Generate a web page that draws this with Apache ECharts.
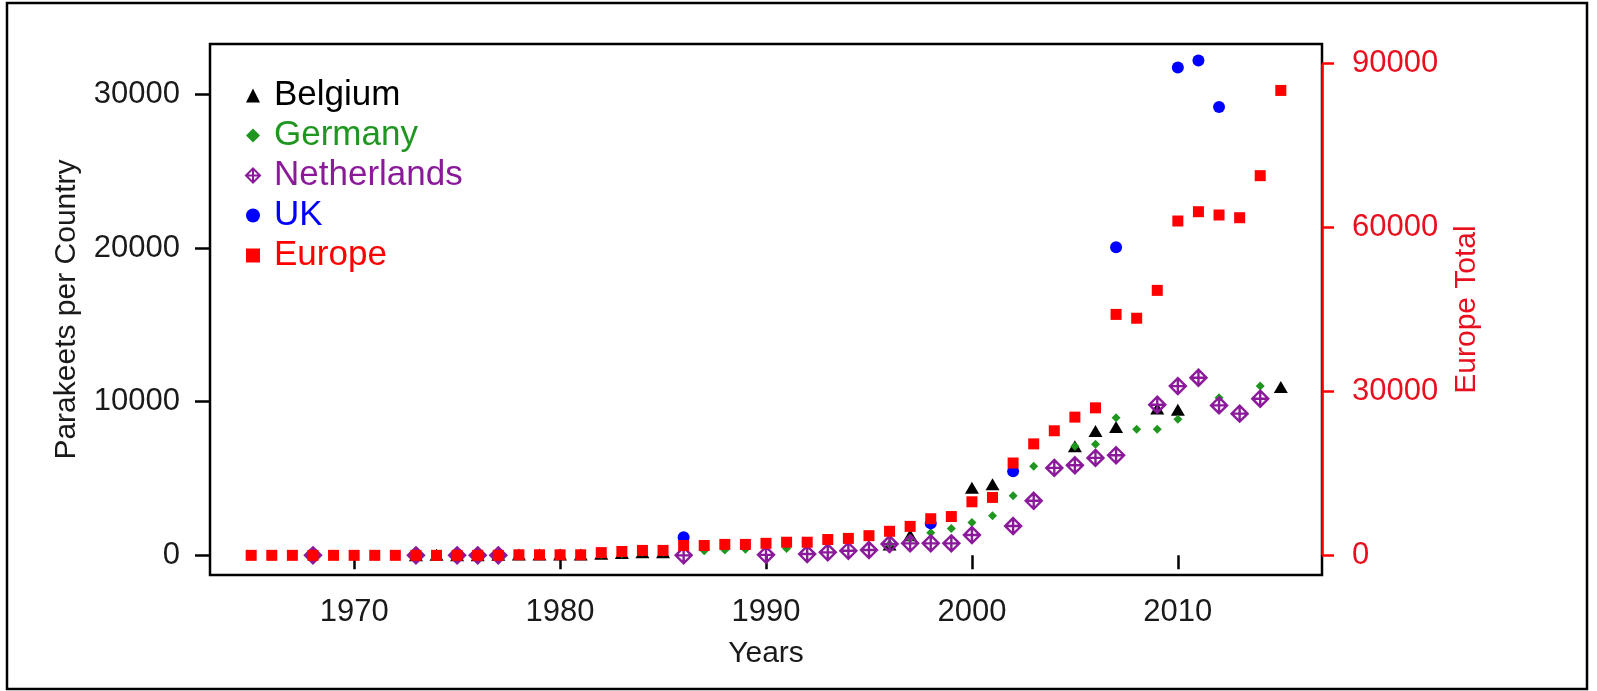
<!DOCTYPE html>
<html>
<head>
<meta charset="utf-8">
<title>Parakeets</title>
<script src="https://cdn.jsdelivr.net/npm/echarts@6/dist/echarts.min.js"></script>
<style>
  html, body { margin: 0; padding: 0; background: #fff; }
  #chart { width: 1597px; height: 691px; }
</style>
</head>
<body>
<div id="chart"></div>
<script>
const years = [1965, 1966, 1967, 1968, 1969, 1970, 1971, 1972, 1973, 1974,
  1975, 1976, 1977, 1978, 1979, 1980, 1981, 1982, 1983, 1984,
  1985, 1986, 1987, 1988, 1989, 1990, 1991, 1992, 1993, 1994,
  1995, 1996, 1997, 1998, 1999, 2000, 2001, 2002, 2003, 2004,
  2005, 2006, 2007, 2008, 2009, 2010, 2011, 2012, 2013, 2014, 2015]

const belgium = [
  null, null, null, null, null, null, null, null, // 1965-72
  0, 30, 0, 0, 30, 50, 50, 50, 50, 100, 150, 200, 200, // 1973-85
  null, null, null, null, null, null, null, null, null, null, // 1986-95
  700, 1300, null, null, 4400, 4630, null, null, null, 7100,
  8100, 8350, null, 9550, 9480, null, null, null, null, 10950 // 1996-2015
]
const germany = [
  null, null, null, null, null, null, null, null, null, null, null, null, null, null, null, // 1965-79
  0, 0, 50, 100, 200, 200, // 1980-85
  null, 300, 350, 400, null, 450, null, null, null, null, // 1986-95
  700, 1100, 1470, 1750, 2140, 2575, 3875, 5800, null, 7100,
  7230, 8960, 8200, 8200, 8850, null, 10260, null, 11015, null // 1996-2015
]
const netherlands = [
  null, null, null, 0, null, null, null, null, 0, null, 0, 0, 0, // 1965-77
  null, null, null, null, null, null, null, null, // 1978-85
  0, null, null, null, 30, null, 85, 195, 300, 345, // 1986-95
  735, 780, 780, 780, 1320, null, 1905, 3550, 5690, 5860,
  6340, 6515, null, 9805, 11015, 11560, 9760, 9220, 10195, null // 1996-2015
]
const uk = [
  null, null, null, null, null, null, null, null, null, null,
  null, null, null, null, null, null, null, null, null, null, null, // 1965-85
  1170, null, null, null, null, null, null, null, null, null, null, null, // 1986-97
  2080, null, null, null, 5475, null, null, null, null, 20045, // 1998-2007
  null, null, 31750, 32200, 29175, null, null, null // 2008-15
]
const europe = [
  0, 0, 0, 0, 0, 0, 0, 0, 0, 0, 0, 0, 0, // 1965-77
  100, 100, 100, 100, 500, 700, 900, 900, // 1978-85
  1800, 1800, 2000, 2000, 2200, 2400, 2400, 2900, 3100, 3600, // 1986-95
  4400, 5300, 6700, 7100, 9800, 10600, 16900, 20400, 22800, 25300, // 1996-2005
  27000, 44100, 43400, 48500, 61200, 62900, 62300, 61800, 69500, 85100 // 2006-15
]

const xTicks = [1970, 1980, 1990, 2000, 2010]
const leftTicks = [0, 10000, 20000, 30000]
const rightTicks = [0, 30000, 60000, 90000]

const xMin = 1963
const xMax = 2017
const font = 'Liberation Sans, Arial, sans-serif'

const toPoints = (arr) =>
  years.map((y, i) => [y, arr[i]]).filter((p) => p[1] !== null)
const plain = (v) => String(v)

// R pch 9: diamond with a plus inside
const diamondPlus = 'path://M10,0 L20,10 L10,20 L0,10 Z M10,0 L10,20 M0,10 L20,10'

const chart = echarts.init(document.getElementById('chart'))
chart.setOption({
  animation: false,
  textStyle: { fontFamily: font },
  graphic: [
    {
      type: 'rect',
      shape: { x: 7, y: 3, width: 1580, height: 686 },
      style: { fill: 'none', stroke: '#000', lineWidth: 2.5 },
      silent: true
    }
  ],
  grid: {
    left: 210,
    top: 44,
    width: 1112,
    height: 531,
    show: true,
    borderColor: '#000',
    borderWidth: 2.5
  },
  legend: {
    orient: 'vertical',
    left: 240,
    top: 73,
    itemWidth: 14,
    itemHeight: 14,
    itemGap: 5,
    textStyle: { fontSize: 35, fontFamily: font, padding: [0, 0, 0, 9] },
    data: [
      { name: 'Belgium', textStyle: { color: '#000' } },
      { name: 'Germany', textStyle: { color: '#1f961f' } },
      { name: 'Netherlands', textStyle: { color: '#8b1a9b' } },
      { name: 'UK', textStyle: { color: '#0000ff' } },
      { name: 'Europe', textStyle: { color: '#ff0000' } }
    ]
  },
  xAxis: {
    type: 'value',
    min: xMin,
    max: xMax,
    name: 'Years',
    nameLocation: 'middle',
    nameGap: 64,
    nameTextStyle: { fontSize: 30, color: '#1a1a1a' },
    splitLine: { show: false },
    axisLine: { show: false },
    axisTick: {
      customValues: xTicks,
      length: 14,
      lineStyle: { color: '#000', width: 2.5 }
    },
    axisLabel: {
      customValues: xTicks,
      formatter: plain,
      fontSize: 31,
      color: '#1a1a1a',
      margin: 22
    }
  },
  yAxis: [
    {
      type: 'value',
      min: -1280,
      max: 33280,
      name: 'Parakeets per Country',
      nameLocation: 'middle',
      nameGap: 128,
      nameTextStyle: { fontSize: 30, color: '#1a1a1a' },
      splitLine: { show: false },
      axisLine: { show: false },
      axisTick: {
        customValues: leftTicks,
        length: 15,
        lineStyle: { color: '#000', width: 2.5 }
      },
      axisLabel: {
        customValues: leftTicks,
        formatter: plain,
        fontSize: 31,
        color: '#1a1a1a',
        margin: 30
      }
    },
    {
      type: 'value',
      position: 'right',
      min: -3600,
      max: 93600,
      name: 'Europe Total',
      nameLocation: 'middle',
      nameRotate: 90,
      nameGap: 130,
      nameTextStyle: { fontSize: 30, color: '#e8101f' },
      splitLine: { show: false },
      axisLine: { show: false },
      axisTick: {
        customValues: rightTicks,
        length: 12,
        lineStyle: { color: '#ff0000', width: 2.5 }
      },
      axisLabel: {
        customValues: rightTicks,
        formatter: plain,
        fontSize: 31,
        color: '#e8101f',
        margin: 30
      }
    }
  ],
  series: [
    {
      name: 'Belgium',
      type: 'scatter',
      symbol: 'triangle',
      symbolSize: [14, 12],
      itemStyle: { color: '#000', opacity: 1 },
      data: toPoints(belgium)
    },
    {
      name: 'Germany',
      type: 'scatter',
      symbol: 'diamond',
      symbolSize: 9,
      itemStyle: { color: '#1f961f', opacity: 1 },
      data: toPoints(germany)
    },
    {
      name: 'Netherlands',
      type: 'scatter',
      symbol: diamondPlus,
      symbolSize: 16,
      itemStyle: { color: 'rgba(0,0,0,0)', borderColor: '#8b1a9b', borderWidth: 2.4, opacity: 1 },
      data: toPoints(netherlands)
    },
    {
      name: 'UK',
      type: 'scatter',
      symbol: 'circle',
      symbolSize: 12,
      itemStyle: { color: '#0000ff', opacity: 1 },
      data: toPoints(uk)
    },
    {
      name: 'Europe',
      type: 'scatter',
      yAxisIndex: 1,
      symbol: 'rect',
      symbolSize: 11,
      itemStyle: { color: '#ff0000', opacity: 1 },
      data: toPoints(europe),
      markLine: {
        silent: true,
        symbol: ['none', 'none'],
        label: { show: false },
        lineStyle: { color: '#ff0000', width: 2.5, type: 'solid' },
        data: [[{ coord: [xMax, rightTicks[0]] }, { coord: [xMax, rightTicks[rightTicks.length - 1]] }]]
      }
    }
  ]
})
</script>
</body>
</html>
